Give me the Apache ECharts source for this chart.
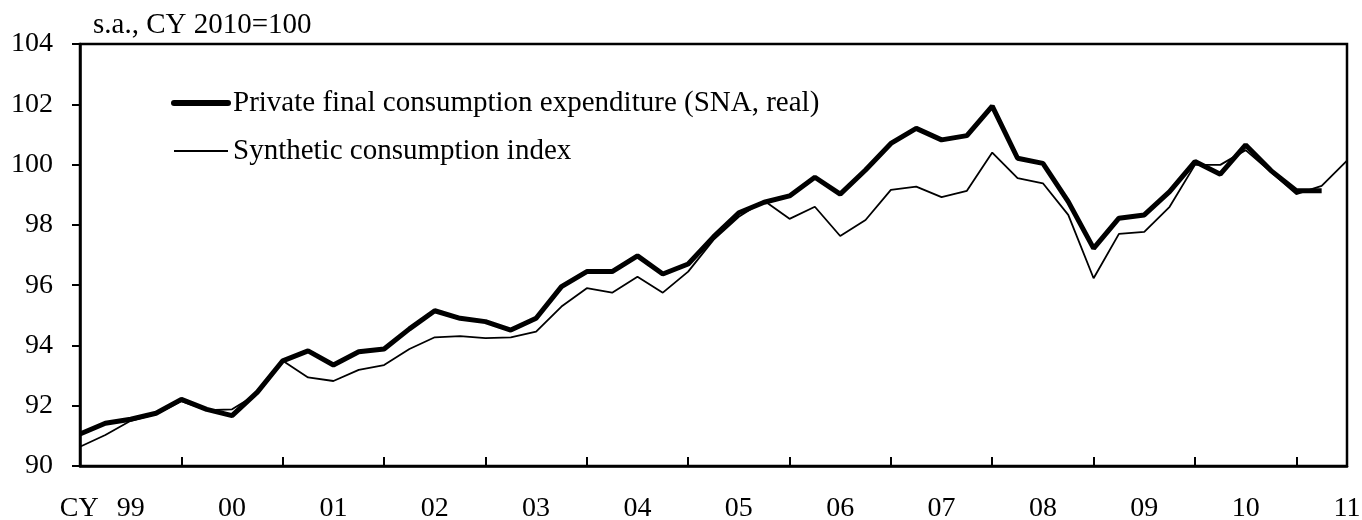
<!DOCTYPE html>
<html>
<head>
<meta charset="utf-8">
<script src="https://cdn.jsdelivr.net/npm/echarts@6/dist/echarts.min.js"></script>
<style>
  html, body { margin: 0; padding: 0; background: #fff; }
  #chart { width: 1362px; height: 520px; }
</style>
</head>
<body>
<div id="chart"></div>
<script>
// quarters 1999Q1 .. 2011Q3
var quarters = [];
for (var y = 1999; y <= 2011; y++) {
  for (var q = 1; q <= 4; q++) {
    if (y === 2011 && q > 3) break;
    quarters.push(y + 'Q' + q);
  }
}

// Private final consumption expenditure (SNA, real), ends 2011Q2
var snaReal = [
  91.06, 91.42, 91.55, 91.75, 92.21, 91.88, 91.67, 92.45,
  93.49, 93.82, 93.35, 93.79, 93.88, 94.55, 95.15, 94.9,
  94.79, 94.51, 94.9, 95.95, 96.45, 96.45, 96.97, 96.37,
  96.7, 97.6, 98.4, 98.75, 98.96, 99.58, 99.02, 99.82,
  100.7, 101.2, 100.82, 100.96, 101.94, 100.21, 100.04, 98.77,
  97.22, 98.22, 98.33, 99.1, 100.1, 99.68, 100.65, 99.8,
  99.13, 99.13
];

// Synthetic consumption index, ends 2011Q3
var synthetic = [
  90.64, 91.03, 91.5, 91.72, 92.15, 91.85, 91.88, 92.4,
  93.49, 92.94, 92.82, 93.19, 93.35, 93.88, 94.27, 94.31,
  94.24, 94.27, 94.46, 95.29, 95.9, 95.75, 96.28, 95.75,
  96.45, 97.5, 98.27, 98.8, 98.2, 98.6, 97.63, 98.16,
  99.16, 99.27, 98.92, 99.13, 100.4, 99.55, 99.38, 98.33,
  96.23, 97.7, 97.77, 98.6, 99.99, 99.99, 100.48, 99.75,
  99.02, 99.29, 100.13
];

var seriesNames = [
  'Private final consumption expenditure (SNA, real)',
  'Synthetic consumption index'
];

var yTicks = [90, 92, 94, 96, 98, 100, 102, 104];

var FONT = "'Liberation Serif', 'Times New Roman', serif";
var NO_MARK = { color: 'rgba(0,0,0,0)', borderWidth: 0 };

var chart = echarts.init(document.getElementById('chart'));
var option = {
  animation: false,
  backgroundColor: '#fff',
  textStyle: { fontFamily: FONT, color: '#000' },
  title: {
    text: 's.a., CY 2010=100',
    left: 93,
    top: 11,
    padding: 0,
    textStyle: { fontFamily: FONT, fontSize: 29, fontWeight: 'normal', color: '#000' }
  },
  legend: {
    orient: 'vertical',
    left: 171,
    top: 88,
    padding: 0,
    itemWidth: 54,
    itemHeight: 14,
    itemGap: 18,
    textStyle: { fontFamily: FONT, fontSize: 29, color: '#000', lineHeight: 30 },
    data: [
      { name: seriesNames[0], lineStyle: { width: 6, color: '#000', cap: 'round' }, itemStyle: NO_MARK },
      { name: seriesNames[1], lineStyle: { width: 2, color: '#000' }, itemStyle: NO_MARK }
    ]
  },
  grid: {
    left: 80,
    right: 15,
    top: 44,
    bottom: 54,
    outerBoundsMode: 'none',
    show: true,
    borderColor: '#000',
    borderWidth: 2.5
  },
  xAxis: {
    type: 'category',
    data: quarters,
    boundaryGap: false,
    axisLine: { lineStyle: { color: '#000', width: 2.5 } },
    axisTick: {
      inside: true,
      length: 9,
      lineStyle: { color: '#000', width: 2 },
      interval: function (index) { return index % 4 === 0; }
    },
    axisLabel: {
      fontFamily: FONT,
      fontSize: 28,
      color: '#000',
      margin: 29,
      interval: function (index) { return index % 4 === 2; },
      formatter: function (value, index) {
        var yr = value.slice(2, 4);
        // first year carries the "CY" prefix, kept left of the axis
        return index === 2 ? '{cy|CY}{yr|' + yr + '}' : yr;
      },
      rich: {
        cy: { fontFamily: FONT, fontSize: 28, color: '#000', padding: [0, 18, 0, 0] },
        yr: { fontFamily: FONT, fontSize: 28, color: '#000', padding: [0, 57, 0, 0] }
      }
    },
    splitLine: { show: false }
  },
  yAxis: {
    type: 'value',
    min: yTicks[0],
    max: yTicks[yTicks.length - 1],
    interval: 2,
    axisLine: { show: true, lineStyle: { color: '#000', width: 2.5 } },
    axisTick: { show: true, inside: false, length: 8, lineStyle: { color: '#000', width: 2 } },
    axisLabel: { fontFamily: FONT, fontSize: 28, color: '#000', margin: 27 },
    splitLine: { show: false }
  },
  series: [
    {
      name: seriesNames[1],
      type: 'line',
      data: synthetic,
      symbol: 'none',
      z: 2,
      lineStyle: { color: '#000', width: 1.8 },
      itemStyle: { color: '#000' }
    },
    {
      name: seriesNames[0],
      type: 'line',
      data: snaReal,
      symbol: 'none',
      z: 3,
      lineStyle: { color: '#000', width: 5 },
      itemStyle: { color: '#000' }
    }
  ]
};
chart.setOption(option);
</script>
</body>
</html>
